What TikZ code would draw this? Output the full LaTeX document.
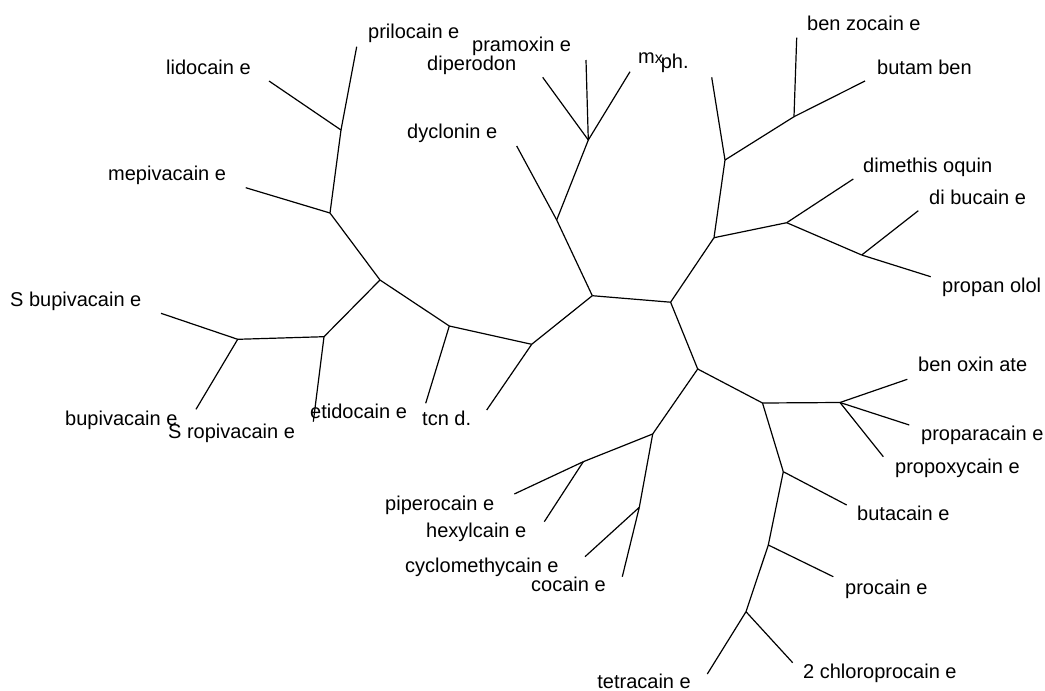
\documentclass[tikz,border=0pt]{standalone}
\usepackage{fontspec}
\setmainfont{Liberation Sans}
\begin{document}
\begin{tikzpicture}[x=1pt,y=-1pt,
  edge/.style={line width=1.2pt,black},
  lbl/.style={anchor=base west,inner sep=0pt,font=\fontsize{20}{24}\selectfont},
  lble/.style={anchor=base east,inner sep=0pt,font=\fontsize{20}{24}\selectfont}]
\useasboundingbox (0,0) rectangle (1045,691);
% internal junctions
\coordinate (c1) at (592.3,295.7);
\coordinate (c2) at (670.6,302.2);
\coordinate (d1) at (556.7,220);
\coordinate (p1) at (588.3,140);
\coordinate (a1) at (531.7,344.3);
\coordinate (a2) at (449.3,326);
\coordinate (a3) at (380,280);
\coordinate (a4) at (324,336.7);
\coordinate (a6) at (237.7,339.3);
\coordinate (a5) at (330,213);
\coordinate (a7) at (341,130);
\coordinate (b1) at (714,237.7);
\coordinate (b2) at (725,160);
\coordinate (b4) at (794,116.7);
\coordinate (b3) at (786.7,222.7);
\coordinate (b5) at (861.7,255);
\coordinate (e1) at (697.7,369);
\coordinate (e2) at (762.5,403);
\coordinate (e3) at (840,402.5);
\coordinate (e4) at (783.3,471.7);
\coordinate (e5) at (768.3,545);
\coordinate (e6) at (746,611.7);
\coordinate (f1) at (652.7,434);
\coordinate (f2) at (583.3,461.7);
\coordinate (f3) at (639.3,507.3);
% leaf ends
\coordinate (lDyc) at (516.7,146);
\coordinate (lPra) at (586,60);
\coordinate (lDip) at (542.7,77.3);
\coordinate (lMx) at (630,71.7);
\coordinate (lTcn) at (486.7,410);
\coordinate (lEti) at (425.7,403.3);
\coordinate (lSro) at (313.3,421.7);
\coordinate (lSbu) at (161,313.3);
\coordinate (lBup) at (196,409.3);
\coordinate (lMep) at (245.7,187.7);
\coordinate (lLid) at (269,81);
\coordinate (lPri) at (356.7,46.7);
\coordinate (lUp) at (711.7,77.3);
\coordinate (lBenz) at (796.7,37.7);
\coordinate (lButa) at (865,81);
\coordinate (lDim) at (853.3,179);
\coordinate (lDib) at (918.3,210.7);
\coordinate (lProp) at (930.7,276.7);
\coordinate (lBenox) at (907.3,379.3);
\coordinate (lPrpa) at (909.3,425);
\coordinate (lPrpo) at (883.3,456.7);
\coordinate (lButc) at (846.7,505);
\coordinate (lProc) at (833.3,576.7);
\coordinate (lTetr) at (707.3,674);
\coordinate (lChl) at (792.7,662.7);
\coordinate (lPip) at (514.3,494);
\coordinate (lHex) at (544.3,521.7);
\coordinate (lCyc) at (585,556.7);
\coordinate (lCoc) at (622.3,576.7);
% edges
\draw[edge] (c1) -- (c2);
\draw[edge] (c1) -- (d1);
\draw[edge] (d1) -- (lDyc);
\draw[edge] (d1) -- (p1);
\draw[edge] (p1) -- (lPra);
\draw[edge] (p1) -- (lDip);
\draw[edge] (p1) -- (lMx);
\draw[edge] (c1) -- (a1);
\draw[edge] (a1) -- (lTcn);
\draw[edge] (a1) -- (a2);
\draw[edge] (a2) -- (lEti);
\draw[edge] (a2) -- (a3);
\draw[edge] (a3) -- (a4);
\draw[edge] (a4) -- (lSro);
\draw[edge] (a4) -- (a6);
\draw[edge] (a6) -- (lSbu);
\draw[edge] (a6) -- (lBup);
\draw[edge] (a3) -- (a5);
\draw[edge] (a5) -- (lMep);
\draw[edge] (a5) -- (a7);
\draw[edge] (a7) -- (lLid);
\draw[edge] (a7) -- (lPri);
\draw[edge] (c2) -- (b1);
\draw[edge] (b1) -- (b2);
\draw[edge] (b2) -- (lUp);
\draw[edge] (b2) -- (b4);
\draw[edge] (b4) -- (lBenz);
\draw[edge] (b4) -- (lButa);
\draw[edge] (b1) -- (b3);
\draw[edge] (b3) -- (lDim);
\draw[edge] (b3) -- (b5);
\draw[edge] (b5) -- (lDib);
\draw[edge] (b5) -- (lProp);
\draw[edge] (c2) -- (e1);
\draw[edge] (e1) -- (e2);
\draw[edge] (e2) -- (e3);
\draw[edge] (e3) -- (lBenox);
\draw[edge] (e3) -- (lPrpa);
\draw[edge] (e3) -- (lPrpo);
\draw[edge] (e2) -- (e4);
\draw[edge] (e4) -- (lButc);
\draw[edge] (e4) -- (e5);
\draw[edge] (e5) -- (lProc);
\draw[edge] (e5) -- (e6);
\draw[edge] (e6) -- (lTetr);
\draw[edge] (e6) -- (lChl);
\draw[edge] (e1) -- (f1);
\draw[edge] (f1) -- (f2);
\draw[edge] (f2) -- (lPip);
\draw[edge] (f2) -- (lHex);
\draw[edge] (f1) -- (f3);
\draw[edge] (f3) -- (lCyc);
\draw[edge] (f3) -- (lCoc);
% labels
\node[lbl] (tPri) at (368,38) {prilocain e};
\node[lbl] (tLid) at (166,74) {lidocain e};
\node[lbl] (tMep) at (108,180) {mepivacain e};
\node[lbl] (tSbu) at (10,306) {S bupivacain e};
\node[lbl] (tBup) at (65,425) {bupivacain e};
\node[lbl] (tSro) at (168,438) {S ropivacain e};
\node[lbl] (tEti) at (310,418) {etidocain e};
\node[lbl] (tTcn) at (422,425) {tcn d.};
\node[lbl] (tDyc) at (407,138) {dyclonin e};
\node[lbl] (tDip) at (427,70) {diperodon};
\node[lbl] (tPra) at (472,51) {pramoxin e};
\node[lbl] (tMx) at (638,63) {m{\fontsize{16}{18}\selectfont x}\kern-2pt\raisebox{-5pt}{ph.}};
\node[lbl] (tBenz) at (807,30) {ben zocain e};
\node[lbl] (tButa) at (877,74) {butam ben};
\node[lbl] (tDim) at (863,172) {dimethis oquin};
\node[lbl] (tDib) at (929,204) {di bucain e};
\node[lbl] (tProp) at (942,292) {propan olol};
\node[lbl] (tBenox) at (918,371) {ben oxin ate};
\node[lbl] (tPrpa) at (921,440) {proparacain e};
\node[lbl] (tPrpo) at (895,473) {propoxycain e};
\node[lbl] (tButc) at (857,520) {butacain e};
\node[lbl] (tProc) at (845,594) {procain e};
\node[lbl] (tChl) at (803,678) {2 chloroprocain e};
\node[lble] (tTetr) at (691,688) {tetracain e};
\node[lbl] (tPip) at (385,510) {piperocain e};
\node[lbl] (tHex) at (426,537) {hexylcain e};
\node[lbl] (tCyc) at (405,572) {cyclomethycain e};
\node[lbl] (tCoc) at (531,591) {cocain e};
\end{tikzpicture}
\end{document}
